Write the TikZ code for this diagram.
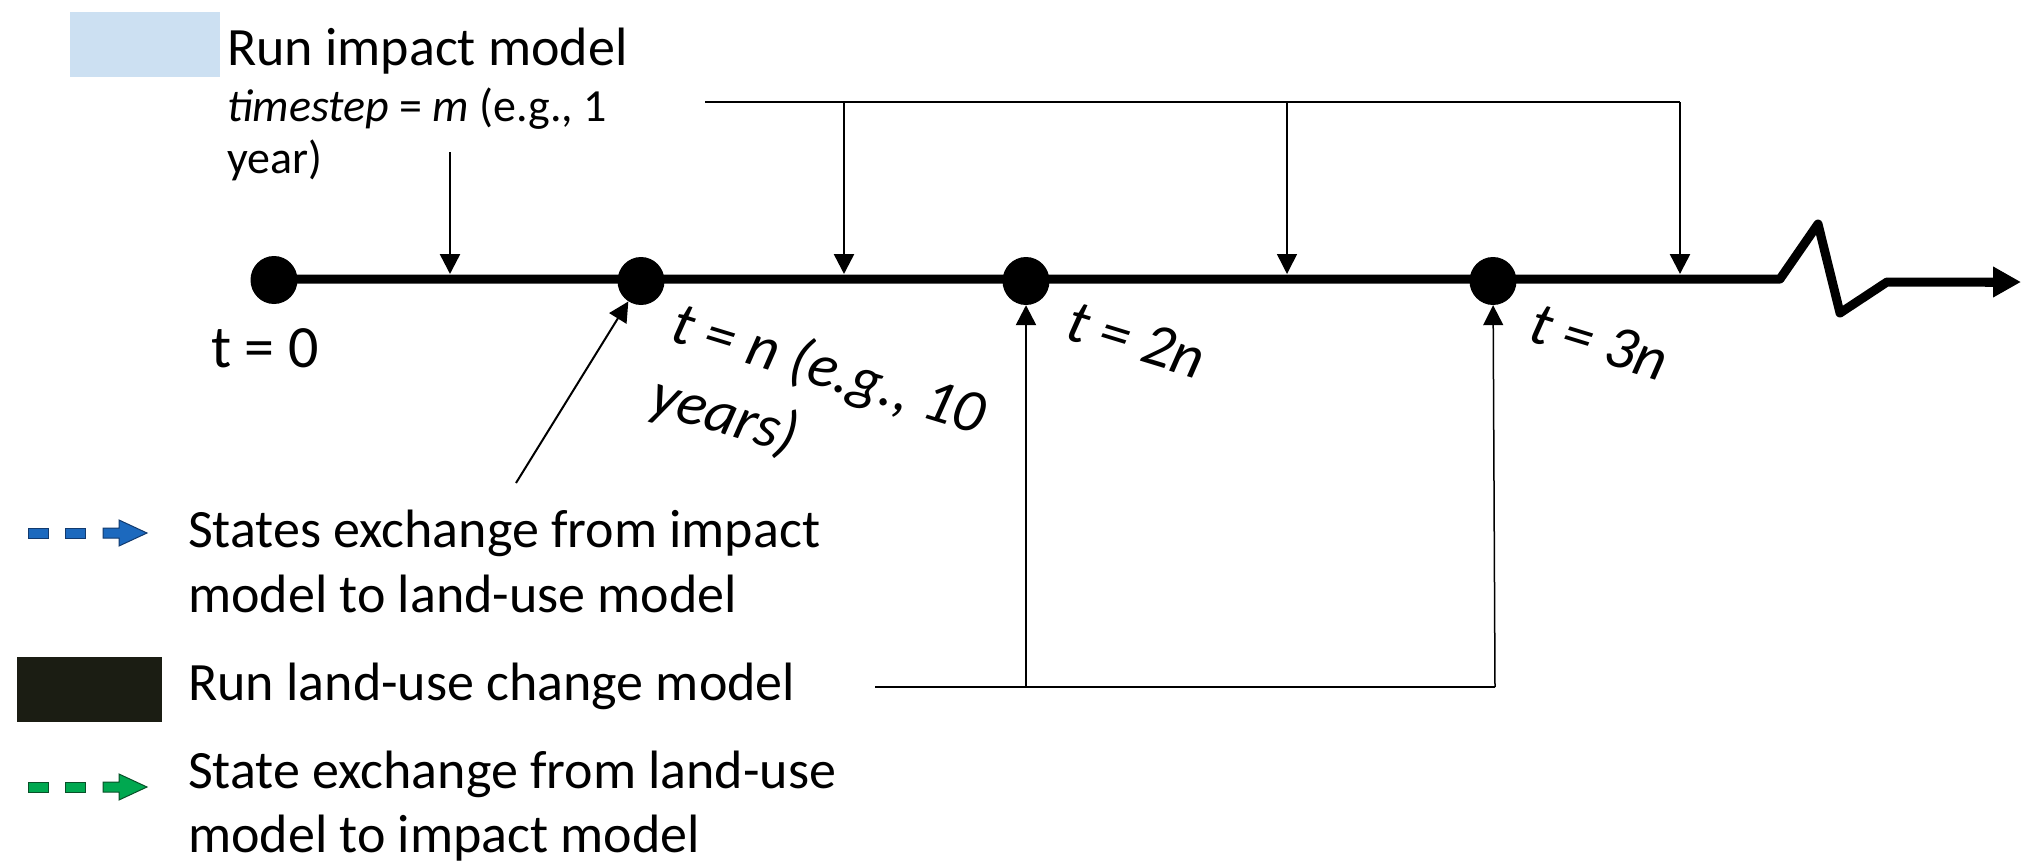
\documentclass[tikz,border=0pt]{standalone}
\usepackage{fontspec}
\setmainfont{Carlito}
\usetikzlibrary{arrows.meta,shapes.geometric}

\definecolor{impactblue}{RGB}{204,224,242}
\definecolor{landblack}{RGB}{27,29,19}
\definecolor{xblue}{RGB}{28,105,190}
\definecolor{xbluedark}{RGB}{18,58,110}
\definecolor{xgreen}{RGB}{0,168,80}
\definecolor{xgreendark}{RGB}{8,80,40}

\begin{document}
\begin{tikzpicture}[x=1pt,y=-1pt,
  lbl/.style={anchor=base west, inner sep=0pt, font=\fontsize{54}{65}\selectfont},
  small/.style={anchor=base west, inner sep=0pt, font=\fontsize{46}{54}\selectfont},
  ticklbl/.style={anchor=base west, inner sep=0pt, font=\fontsize{61}{73}\selectfont\itshape, rotate=-17},
  dot/.style={ellipse, fill=black, minimum width=47pt, minimum height=48pt, inner sep=0pt},
  feed/.style={line width=2.5pt, -{Triangle[length=20pt,width=20pt]}},
  thinfeed/.style={feed, line width=1.5pt},
  bus/.style={line width=2.5pt},
  axis/.style={line width=9pt, line join=round},
  legarrow/.style={line width=1pt},
]
\useasboundingbox (0,0) rectangle (2022,862);

% ---- legend: impact model box and its time step
\fill[impactblue] (70,12) rectangle (220,77);
\node[lbl]   (imp1) at (227,65)  {Run impact model};
\node[small] (imp2) at (227,121) {\textit{timestep} = \textit{m} (e.g., 1};
\node[small] (imp3) at (227,173) {year)};

% ---- time axis
\coordinate (z0) at (1780,279);
\coordinate (z1) at (1818,224);
\coordinate (z2) at (1840,313);
\coordinate (z3) at (1887,282);
\coordinate (zend) at (2021,282);
\draw[axis] (274,279) -- (z0) -- (z1) -- (z2) -- (z3) -- (1995,282);
\draw[line width=9pt, -{Triangle[length=28pt,width=29pt]}] (1985,282) -- (zend);

\node[dot] (d0) at (274,280) {};
\node[dot] (d1) at (641,281) {};
\node[dot] (d2) at (1026,281) {};
\node[dot] (d3) at (1493,281) {};

% ---- labels of the coupling times
\node[lbl, font=\fontsize{60}{73}\selectfont] (t0) at (211,367) {t = 0};
\node[ticklbl] (tn)  at (668,340)  {t = n (e.g., 10};
\node[ticklbl] (tny) at (647,411)  {years)};
\node[ticklbl] (t2n) at (1063,338) {t = 2n};
\node[ticklbl] (t3n) at (1526,340) {t = 3n};

% ---- impact model runs (every m)
\coordinate (m0) at (450,152);
\coordinate (m0a) at (450,274);
\draw[feed] (m0) -- (m0a);

\coordinate (bA) at (705,102);
\coordinate (b1) at (844,102);
\coordinate (b2) at (1287,102);
\coordinate (b3) at (1680,102);
\coordinate (a1) at (844,274);
\coordinate (a2) at (1287,274);
\coordinate (a3) at (1680,274);
\draw[bus] (bA) -- (b3);
\draw[feed] (b1) -- (a1);
\draw[thinfeed] (b2) -- (a2);
\draw[feed] (b3) -- (a3);

% ---- land-use model runs (every n)
\coordinate (lA) at (875,687);
\coordinate (l2) at (1026,687);
\coordinate (l3) at (1495,687);
\draw[bus] (lA) -- (l3);
\draw[feed] (l2) -- (d2);
\draw[thinfeed] (l3) -- (d3);

% ---- state exchange into the first coupling time
\coordinate (s1) at (516,483);
\draw[feed, line width=2pt] (s1) -- (d1);

% ---- legend: exchange arrows and land-use box
\filldraw[fill=xblue, draw=xbluedark, legarrow] (28,528) rectangle (48,538);
\filldraw[fill=xblue, draw=xbluedark, legarrow] (65,528) rectangle (85,538);
\filldraw[fill=xblue, draw=xbluedark, legarrow]
  (103,528) -- (119,528) -- (119,520) -- (147,533) -- (119,546) -- (119,538) -- (103,538) -- cycle;
\node[lbl] (ex1a) at (188,547) {States exchange from impact};
\node[lbl] (ex1b) at (188,612) {model to land-use model};

\fill[landblack] (17,657) rectangle (162,722);
\node[lbl] (lu) at (188,700) {Run land-use change model};

\filldraw[fill=xgreen, draw=xgreendark, legarrow] (28,782) rectangle (48,792);
\filldraw[fill=xgreen, draw=xgreendark, legarrow] (65,782) rectangle (85,792);
\filldraw[fill=xgreen, draw=xgreendark, legarrow]
  (103,782) -- (119,782) -- (119,774) -- (147,787) -- (119,800) -- (119,792) -- (103,792) -- cycle;
\node[lbl] (ex2a) at (188,788) {State exchange from land-use};
\node[lbl] (ex2b) at (188,852) {model to impact model};
\end{tikzpicture}
\end{document}
